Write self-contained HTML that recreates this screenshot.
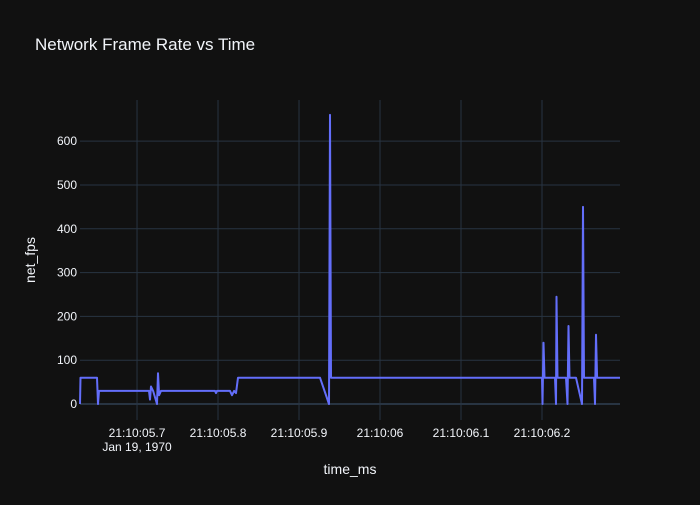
<!DOCTYPE html>
<html><head><meta charset="utf-8"><style>
html,body{margin:0;padding:0;background:#111111;}
svg text{font-family:"Liberation Sans",sans-serif;fill:#f2f5fa;}
</style></head><body>
<svg id="chart" width="700" height="500">
<rect width="700" height="500" fill="#111111"/>
<g id="grid"></g><g id="series"></g><g id="axes"></g>
<text x="35" y="50" font-size="17">Network Frame Rate vs Time</text>
<text x="350" y="474" font-size="14" text-anchor="middle">time_ms</text>
<text transform="translate(35,260) rotate(-90)" font-size="14" text-anchor="middle">net_fps</text>
</svg>
<script>
// seconds after 21:10:05
const times = [5.6296,5.6302,5.6506,5.6518,5.6531,5.6556,5.7148,5.7160,5.7173,5.7198,5.7247,5.7259,5.7272,5.7296,5.7963,5.7975,5.7988,5.8148,5.8173,5.8198,5.8222,5.8247,5.9259,5.9370,5.9383,5.9395,6.2000,6.2006,6.2019,6.2031,6.2160,6.2173,6.2179,6.2191,6.2296,6.2315,6.2327,6.2340,6.2420,6.2494,6.2506,6.2519,6.2642,6.2654,6.2667,6.2680,6.2963];
const fps   = [0,60,60,0,30,30,30,10,40,30,0,70,20,30,30,25,30,30,20,30,25,60,60,0,660,60,60,0,140,60,60,0,245,60,60,0,178,60,60,0,450,60,60,0,158,60,60];
const yTicks = [0,100,200,300,400,500,600];
const xTickVals = [5.7,5.8,5.9,6.0,6.1,6.2];
const xTickLabels = ["21:10:05.7","21:10:05.8","21:10:05.9","21:10:06","21:10:06.1","21:10:06.2"];
const L=80,R=620,T=100,B=420;
const x0=5.6296,x1=6.2963,yMin=-36.5,yMax=694;
function sx(t){return L+(t-x0)/(x1-x0)*(R-L);}
function sy(v){return B-(v-yMin)/(yMax-yMin)*(B-T);}
const NS="http://www.w3.org/2000/svg";
function mk(tag,attrs,parent){const e=document.createElementNS(NS,tag);for(const k in attrs)e.setAttribute(k,attrs[k]);parent.appendChild(e);return e;}
const grid=document.getElementById('grid'),axes=document.getElementById('axes'),series=document.getElementById('series');
xTickVals.forEach((t,i)=>{
  const gl=mk('line',{x1:sx(t),x2:sx(t),y1:T,y2:B,stroke:'#283442','stroke-width':1},grid);
  
  
  const tx=mk('text',{x:sx(t),y:B+17,'font-size':12,'text-anchor':'middle'},axes);
  tx.textContent=xTickLabels[i];
  
  
});
const sub=mk('text',{x:sx(5.7),y:B+31,'font-size':12,'text-anchor':'middle'},axes);
sub.textContent='Jan 19, 1970';


yTicks.forEach(v=>{
  const gl=mk('line',{x1:L,x2:R,y1:sy(v),y2:sy(v),stroke:'#283442','stroke-width':v===0?2:1},grid);
  
  
  const tx=mk('text',{x:L-3,y:sy(v)+4,'font-size':12,'text-anchor':'end'},axes);
  tx.textContent=String(v);
  
  
});
const pts=times.map((t,i)=>sx(t).toFixed(1)+','+sy(fps[i]).toFixed(1)).join(' ');
const line=mk('polyline',{points:pts,fill:'none',stroke:'#636efa','stroke-width':2,'stroke-linejoin':'round'},series);


</script>
</body></html>
